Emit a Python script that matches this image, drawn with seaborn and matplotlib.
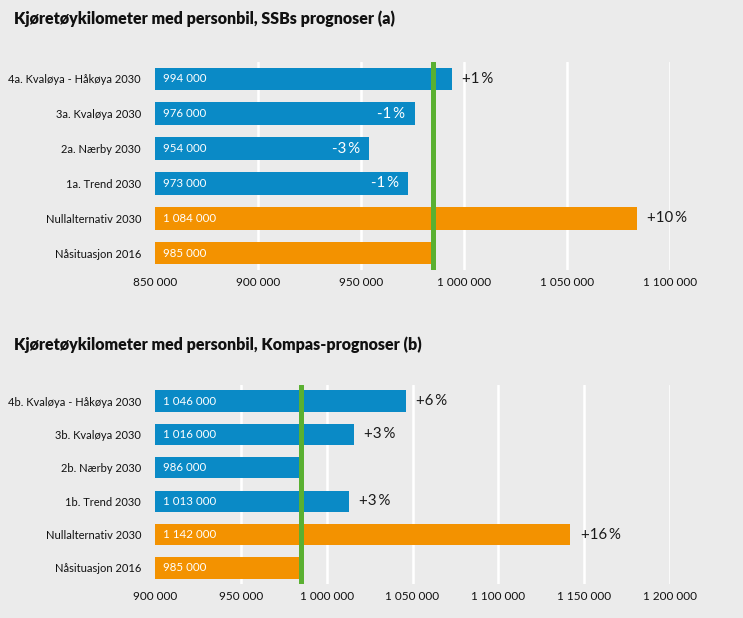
import matplotlib
matplotlib.use("Agg")
import matplotlib.pyplot as plt
import seaborn as sns
import pandas as pd

# ---- data ----
cats_a = ["4a. Kvaløya - Håkøya 2030", "3a. Kvaløya 2030", "2a. Nærby 2030",
          "1a. Trend 2030", "Nullalternativ 2030", "Nåsituasjon 2016"]
vals_a = [994000, 976000, 954000, 973000, 1084000, 985000]
pct_a = ["+1\u2009%", "-1\u2009%", "-3\u2009%", "-1\u2009%", "+10\u2009%", ""]

cats_b = ["4b. Kvaløya - Håkøya 2030", "3b. Kvaløya 2030", "2b. Nærby 2030",
          "1b. Trend 2030", "Nullalternativ 2030", "Nåsituasjon 2016"]
vals_b = [1046000, 1016000, 986000, 1013000, 1142000, 985000]
pct_b = ["+6\u2009%", "+3\u2009%", "", "+3\u2009%", "+16\u2009%", ""]

groups = ["Prognose", "Prognose", "Prognose", "Prognose", "Referanse", "Referanse"]
reference_value = 985000

ticks_a = [850000, 900000, 950000, 1000000, 1050000, 1100000]
ticks_b = [900000, 950000, 1000000, 1050000, 1100000, 1150000, 1200000]

title_a = "Kjøretøykilometer med personbil, SSBs prognoser (a)"
title_b = "Kjøretøykilometer med personbil, Kompas-prognoser (b)"

# ---- style ----
BG = "#ebebeb"
BLUE = "#0a8ac6"
ORANGE = "#f39200"
GREEN = "#5ab031"

sns.set_theme(style="white")
plt.rcParams["font.family"] = ["Lato", "DejaVu Sans"]
plt.rcParams["figure.facecolor"] = BG
plt.rcParams["axes.facecolor"] = BG

fig = plt.figure(figsize=(7.43, 6.18), dpi=100)
W, H = 743, 618


def fmt(v):
    return f"{v:,}".replace(",", " ")


def panel(rect, cats, vals, pcts, ticks, title, title_y):
    ax = fig.add_axes(rect)
    df = pd.DataFrame({"cat": cats, "val": vals, "grp": groups})
    sns.barplot(data=df, x="val", y="cat", hue="grp", dodge=False,
                palette={"Prognose": BLUE, "Referanse": ORANGE},
                width=0.64, legend=False, ax=ax, saturation=1, zorder=2,
                linewidth=0, edgecolor="none")
    ax.set_xlim(ticks[0], ticks[-1])
    ax.set_ylim(5.48, -0.48)
    ax.set_xticks(ticks)
    ax.set_xticklabels([fmt(t) for t in ticks], fontsize=8.5, color="#111111")
    ax.set_yticks(range(len(cats)))
    ax.set_yticklabels(cats, fontsize=8.0, color="#111111")
    ax.tick_params(axis="both", length=0, pad=5)
    ax.tick_params(axis="y", pad=10)
    ax.set_xlabel("")
    ax.set_ylabel("")
    for s in ax.spines.values():
        s.set_visible(False)
    for t in ticks[1:]:
        ax.axvline(t, color="white", lw=1.8, zorder=1)
    ax.axvline(reference_value, color=GREEN, lw=3.6, zorder=4)
    span = ticks[-1] - ticks[0]
    for i, (v, p) in enumerate(zip(vals, pcts)):
        ax.text(ticks[0] + span * 0.016, i, fmt(v), color="white",
                fontsize=8.3, va="center", ha="left", zorder=5)
        if p:
            if v > reference_value:
                ax.text(v + span * 0.02, i, p, color="#1a1a1a", fontsize=10.8,
                        va="center", ha="left", zorder=5, clip_on=False)
            else:
                ax.text(v - span * 0.018, i, p, color="white", fontsize=10.8,
                        va="center", ha="right", zorder=5)
    fig.text(14 / W, 1 - title_y / H, title, fontsize=11.5, fontweight="heavy",
             color="#111111", va="center", ha="left")
    return ax


L = 155 / W
R = 670 / W
panel([L, 1 - 270 / H, R - L, (270 - 62) / H], cats_a, vals_a, pct_a,
      ticks_a, title_a, 19)
panel([L, 1 - 584 / H, R - L, (584 - 385) / H], cats_b, vals_b, pct_b,
      ticks_b, title_b, 345)

fig.savefig("out.png", dpi=100, facecolor=BG)
